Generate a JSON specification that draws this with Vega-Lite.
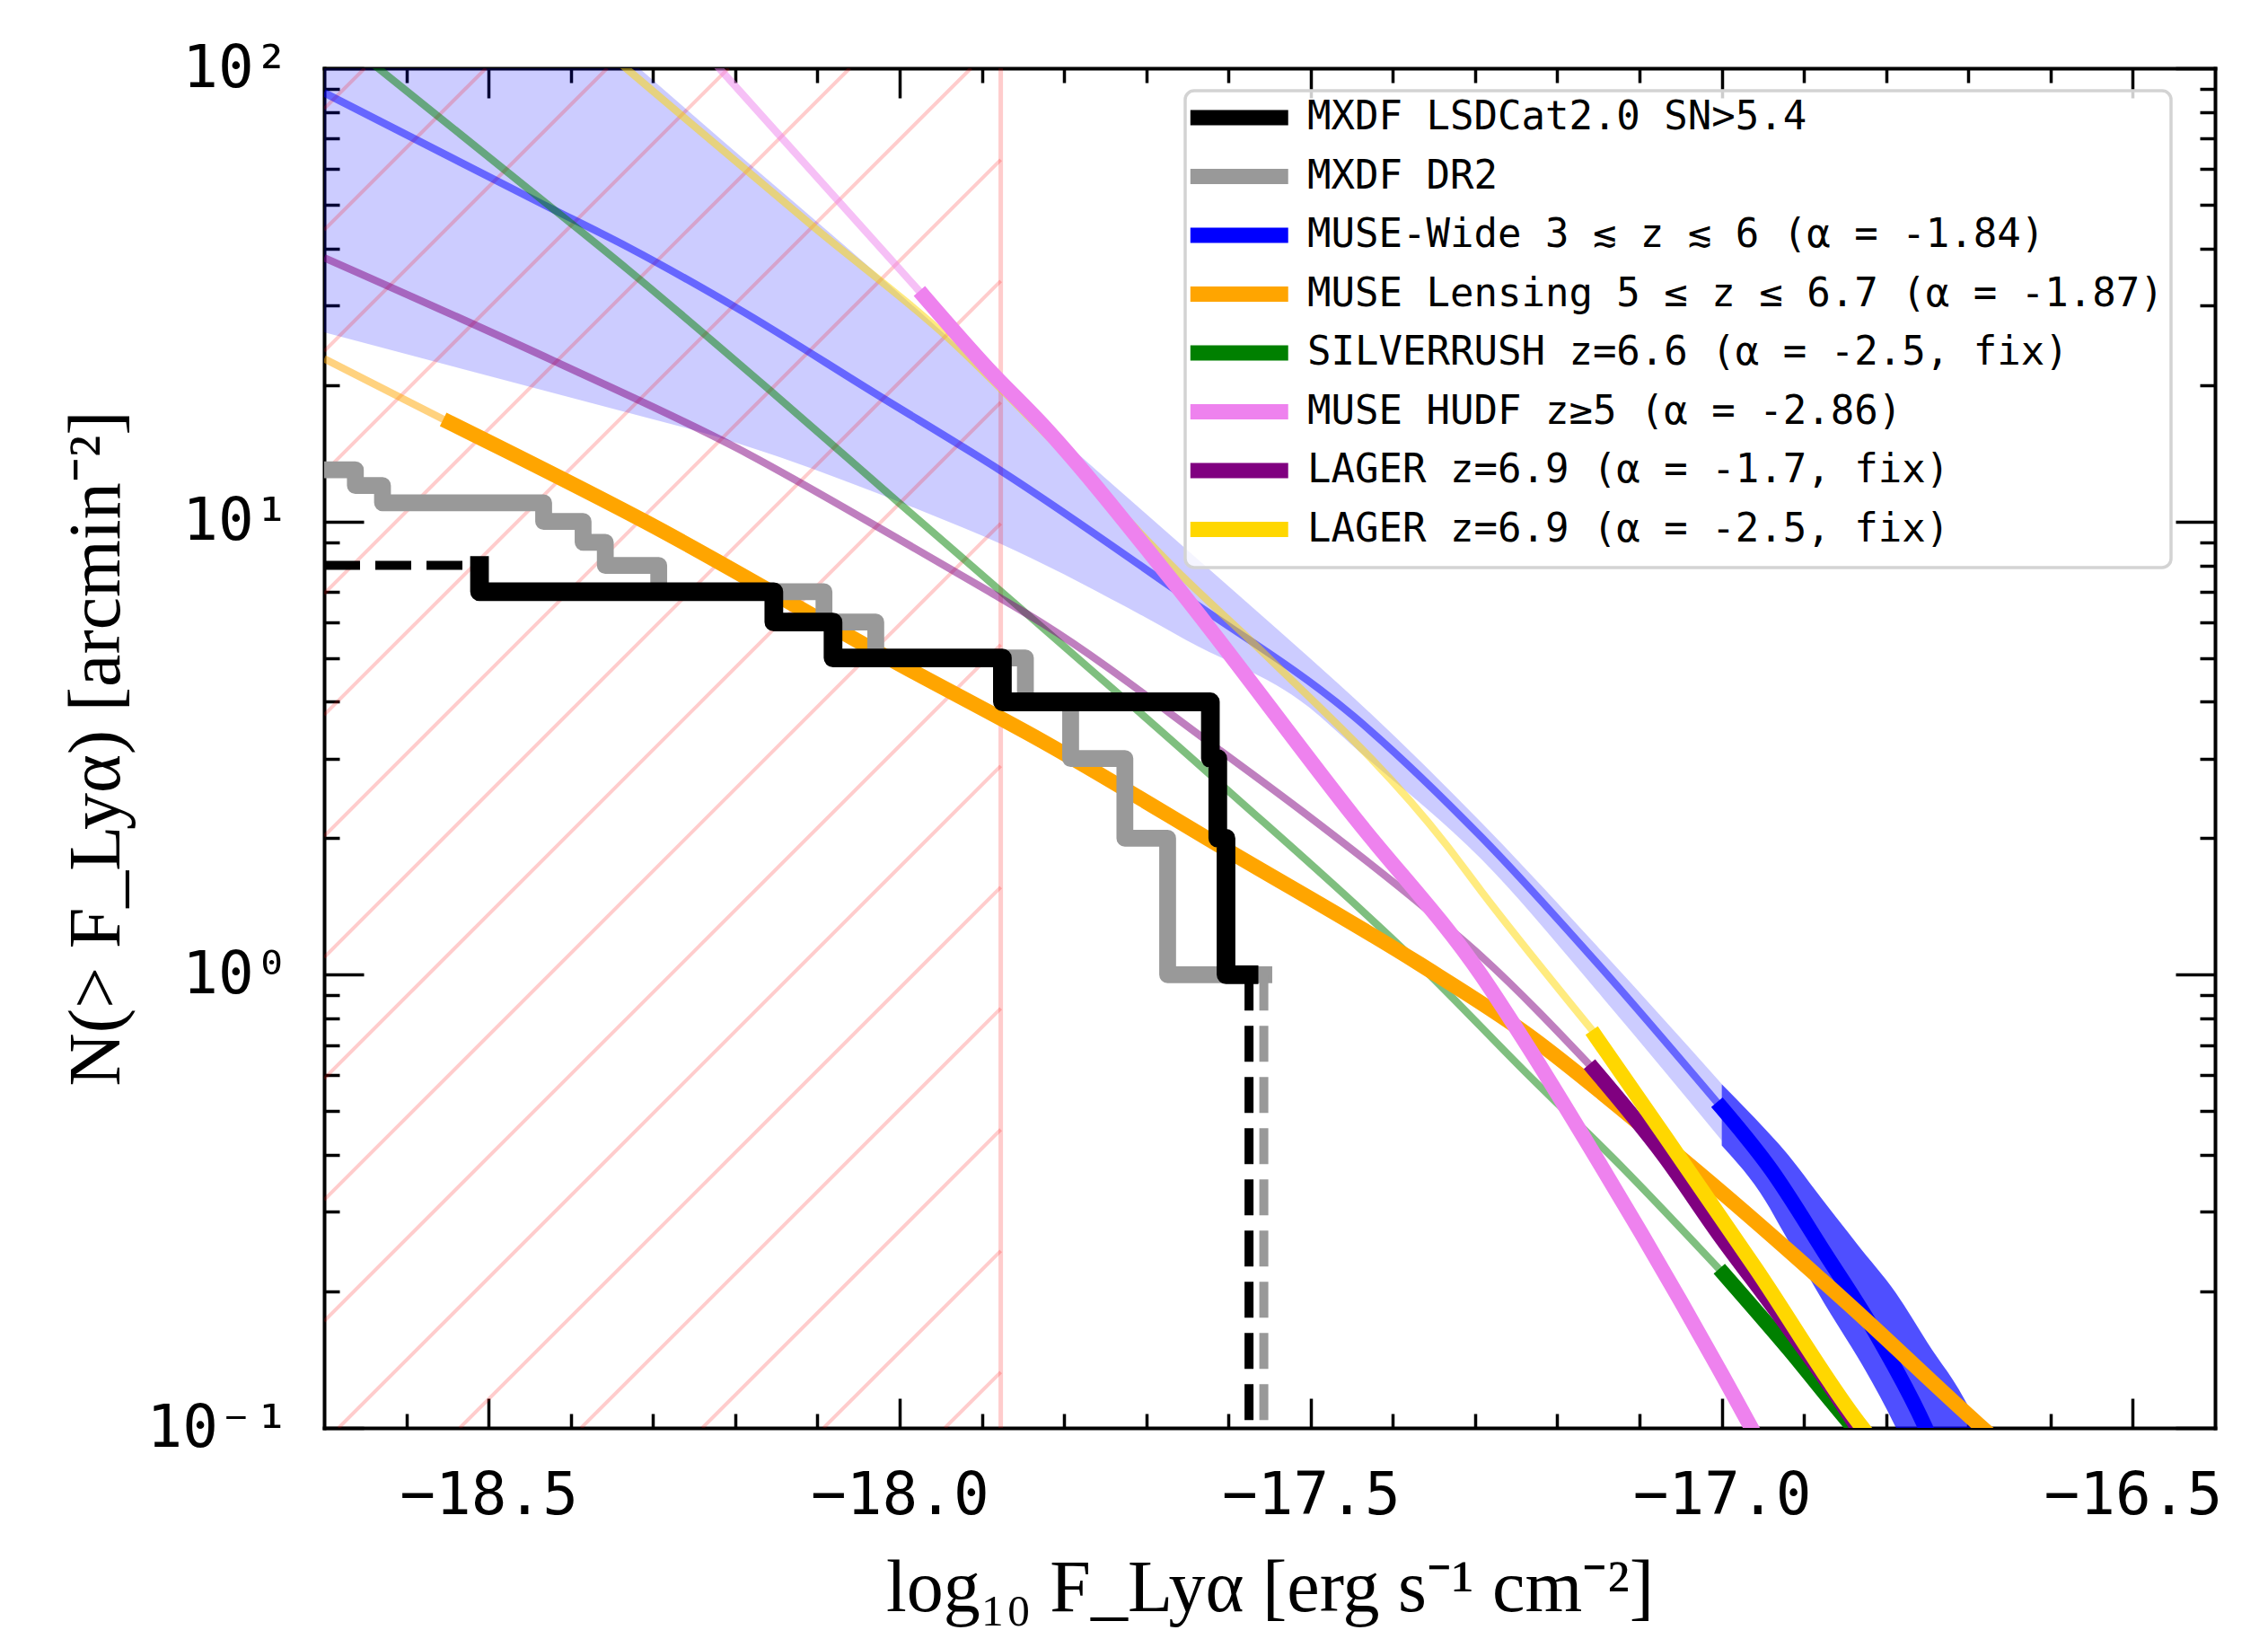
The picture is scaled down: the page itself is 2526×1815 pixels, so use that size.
{
  "$schema": "https://vega.github.io/schema/vega-lite/v6.json",
  "width": 2106,
  "height": 1514,
  "autosize": {"type": "none"},
  "padding": {"left": 361, "top": 76, "right": 59, "bottom": 225},
  "background": "white",
  "config": {
    "view": {"stroke": null},
    "axis": {
      "grid": false,
      "domainColor": "black",
      "domainWidth": 4,
      "domainCap": "square",
      "tickColor": "black",
      "tickWidth": 3.5,
      "labelFont": "DejaVu Sans Mono",
      "labelFontSize": 66,
      "labelColor": "black",
      "labelFlush": false,
      "labelLimit": 600,
      "titleFont": "Liberation Serif",
      "titleFontSize": 82,
      "titleFontWeight": "normal",
      "titleColor": "black"
    },
    "legend": {"strokeWidth": 3.5}
  },
  "datasets": {
    "band_light": [
      {"x": -18.7, "lo": 26.16, "hi": 398.1},
      {"x": -18.312, "lo": 17.03, "hi": 98.29},
      {"x": -18.254, "lo": 15.98, "hi": 79.62},
      {"x": -17.97, "lo": 10.5, "hi": 28.44},
      {"x": -17.876, "lo": 8.913, "hi": 19.95},
      {"x": -17.725, "lo": 6.486, "hi": 11.38},
      {"x": -17.652, "lo": 5.483, "hi": 8.71},
      {"x": -17.502, "lo": 3.89, "hi": 5.012},
      {"x": -17.447, "lo": 3.177, "hi": 4.074},
      {"x": -17.292, "lo": 1.795, "hi": 2.163},
      {"x": -17.145, "lo": 0.891, "hi": 1.122},
      {"x": -17.0, "lo": 0.4305, "hi": 0.5741}
    ],
    "band_dark": [
      {"x": -17.0, "lo": 0.4198, "hi": 0.5735},
      {"x": -16.947, "lo": 0.3173, "hi": 0.456},
      {"x": -16.925, "lo": 0.2704, "hi": 0.4121},
      {"x": -16.875, "lo": 0.1879, "hi": 0.3148},
      {"x": -16.847, "lo": 0.1556, "hi": 0.271},
      {"x": -16.836, "lo": 0.1445, "hi": 0.2553},
      {"x": -16.788, "lo": 0.1, "hi": 0.1982},
      {"x": -16.75, "lo": 0.07, "hi": 0.1545},
      {"x": -16.702, "lo": 0.05, "hi": 0.1132},
      {"x": -16.68, "lo": 0.045, "hi": 0.0933}
    ],
    "hatch": [
      {"x": -18.7, "y": 81.41, "x2": -18.6507, "y2": 100},
      {"x": -18.7, "y": 43.97, "x2": -18.5032, "y2": 100},
      {"x": -18.7, "y": 23.75, "x2": -18.3557, "y2": 100},
      {"x": -18.7, "y": 12.83, "x2": -18.2082, "y2": 100},
      {"x": -18.7, "y": 6.929, "x2": -18.0607, "y2": 100},
      {"x": -18.7, "y": 3.744, "x2": -17.9132, "y2": 100},
      {"x": -18.7, "y": 2.022, "x2": -17.877, "y2": 62.84},
      {"x": -18.7, "y": 1.092, "x2": -17.877, "y2": 33.94},
      {"x": -18.7, "y": 0.5898, "x2": -17.877, "y2": 18.33},
      {"x": -18.7, "y": 0.3186, "x2": -17.877, "y2": 9.902},
      {"x": -18.7, "y": 0.1721, "x2": -17.877, "y2": 5.348},
      {"x": -18.6825, "y": 0.1, "x2": -17.877, "y2": 2.888},
      {"x": -18.535, "y": 0.1, "x2": -17.877, "y2": 1.56},
      {"x": -18.3875, "y": 0.1, "x2": -17.877, "y2": 0.8428},
      {"x": -18.24, "y": 0.1, "x2": -17.877, "y2": 0.4553},
      {"x": -18.0925, "y": 0.1, "x2": -17.877, "y2": 0.2459},
      {"x": -17.945, "y": 0.1, "x2": -17.877, "y2": 0.1328}
    ],
    "limit": [{"x": -17.877}],
    "thin": [
      {"s": "MUSE-Wide 3 ≲ z ≲ 6 (α = -1.84)", "x": -18.7, "y": 88.31},
      {"s": "MUSE-Wide 3 ≲ z ≲ 6 (α = -1.84)", "x": -18.432, "y": 49.89},
      {"s": "MUSE-Wide 3 ≲ z ≲ 6 (α = -1.84)", "x": -18.33, "y": 40.27},
      {"s": "MUSE-Wide 3 ≲ z ≲ 6 (α = -1.84)", "x": -18.198, "y": 29.58},
      {"s": "MUSE-Wide 3 ≲ z ≲ 6 (α = -1.84)", "x": -18.031, "y": 19.23},
      {"s": "MUSE-Wide 3 ≲ z ≲ 6 (α = -1.84)", "x": -17.876, "y": 12.91},
      {"s": "MUSE-Wide 3 ≲ z ≲ 6 (α = -1.84)", "x": -17.652, "y": 6.808},
      {"s": "MUSE-Wide 3 ≲ z ≲ 6 (α = -1.84)", "x": -17.447, "y": 3.707},
      {"s": "MUSE-Wide 3 ≲ z ≲ 6 (α = -1.84)", "x": -17.292, "y": 2.009},
      {"s": "MUSE-Wide 3 ≲ z ≲ 6 (α = -1.84)", "x": -17.145, "y": 1.028},
      {"s": "MUSE-Wide 3 ≲ z ≲ 6 (α = -1.84)", "x": -17.0, "y": 0.5082},
      {"s": "MUSE Lensing 5 ≤ z ≤ 6.7 (α = -1.87)", "x": -18.7, "y": 22.86},
      {"s": "MUSE Lensing 5 ≤ z ≤ 6.7 (α = -1.87)", "x": -18.547, "y": 16.52},
      {"s": "SILVERRUSH z=6.6 (α = -2.5, fix)", "x": -18.7, "y": 124.7},
      {"s": "SILVERRUSH z=6.6 (α = -2.5, fix)", "x": -18.628, "y": 97.95},
      {"s": "SILVERRUSH z=6.6 (α = -2.5, fix)", "x": -18.427, "y": 49.89},
      {"s": "SILVERRUSH z=6.6 (α = -2.5, fix)", "x": -18.33, "y": 35.89},
      {"s": "SILVERRUSH z=6.6 (α = -2.5, fix)", "x": -18.154, "y": 19.21},
      {"s": "SILVERRUSH z=6.6 (α = -2.5, fix)", "x": -18.0, "y": 10.96},
      {"s": "SILVERRUSH z=6.6 (α = -2.5, fix)", "x": -17.854, "y": 6.457},
      {"s": "SILVERRUSH z=6.6 (α = -2.5, fix)", "x": -17.614, "y": 2.679},
      {"s": "SILVERRUSH z=6.6 (α = -2.5, fix)", "x": -17.363, "y": 1.032},
      {"s": "SILVERRUSH z=6.6 (α = -2.5, fix)", "x": -17.237, "y": 0.6053},
      {"s": "SILVERRUSH z=6.6 (α = -2.5, fix)", "x": -17.121, "y": 0.3758},
      {"s": "SILVERRUSH z=6.6 (α = -2.5, fix)", "x": -16.997, "y": 0.2181},
      {"s": "MUSE HUDF z≥5 (α = -2.86)", "x": -18.25, "y": 115.3},
      {"s": "MUSE HUDF z≥5 (α = -2.86)", "x": -18.215, "y": 97.95},
      {"s": "MUSE HUDF z≥5 (α = -2.86)", "x": -17.97, "y": 31.33},
      {"s": "LAGER z=6.9 (α = -1.7, fix)", "x": -18.7, "y": 38.19},
      {"s": "LAGER z=6.9 (α = -1.7, fix)", "x": -18.421, "y": 22.62},
      {"s": "LAGER z=6.9 (α = -1.7, fix)", "x": -18.198, "y": 14.52},
      {"s": "LAGER z=6.9 (α = -1.7, fix)", "x": -18.0, "y": 9.12},
      {"s": "LAGER z=6.9 (α = -1.7, fix)", "x": -17.893, "y": 7.04},
      {"s": "LAGER z=6.9 (α = -1.7, fix)", "x": -17.826, "y": 5.957},
      {"s": "LAGER z=6.9 (α = -1.7, fix)", "x": -17.614, "y": 3.162},
      {"s": "LAGER z=6.9 (α = -1.7, fix)", "x": -17.51, "y": 2.291},
      {"s": "LAGER z=6.9 (α = -1.7, fix)", "x": -17.363, "y": 1.413},
      {"s": "LAGER z=6.9 (α = -1.7, fix)", "x": -17.292, "y": 1.096},
      {"s": "LAGER z=6.9 (α = -1.7, fix)", "x": -17.155, "y": 0.6166},
      {"s": "LAGER z=6.9 (α = -2.5, fix)", "x": -18.4, "y": 126.8},
      {"s": "LAGER z=6.9 (α = -2.5, fix)", "x": -18.327, "y": 97.95},
      {"s": "LAGER z=6.9 (α = -2.5, fix)", "x": -18.103, "y": 44.41},
      {"s": "LAGER z=6.9 (α = -2.5, fix)", "x": -17.941, "y": 25.41},
      {"s": "LAGER z=6.9 (α = -2.5, fix)", "x": -17.826, "y": 15.85},
      {"s": "LAGER z=6.9 (α = -2.5, fix)", "x": -17.652, "y": 7.447},
      {"s": "LAGER z=6.9 (α = -2.5, fix)", "x": -17.558, "y": 5.14},
      {"s": "LAGER z=6.9 (α = -2.5, fix)", "x": -17.335, "y": 1.934},
      {"s": "LAGER z=6.9 (α = -2.5, fix)", "x": -17.292, "y": 1.524},
      {"s": "LAGER z=6.9 (α = -2.5, fix)", "x": -17.151, "y": 0.7295}
    ],
    "thick": [
      {"s": "MUSE-Wide 3 ≲ z ≲ 6 (α = -1.84)", "x": -17.0, "y": 0.5082},
      {"s": "MUSE-Wide 3 ≲ z ≲ 6 (α = -1.84)", "x": -16.94, "y": 0.3715},
      {"s": "MUSE-Wide 3 ≲ z ≲ 6 (α = -1.84)", "x": -16.876, "y": 0.2455},
      {"s": "MUSE-Wide 3 ≲ z ≲ 6 (α = -1.84)", "x": -16.81, "y": 0.1585},
      {"s": "MUSE-Wide 3 ≲ z ≲ 6 (α = -1.84)", "x": -16.752, "y": 0.1},
      {"s": "MUSE-Wide 3 ≲ z ≲ 6 (α = -1.84)", "x": -16.74, "y": 0.0891},
      {"s": "MUSE Lensing 5 ≤ z ≤ 6.7 (α = -1.87)", "x": -18.547, "y": 16.52},
      {"s": "MUSE Lensing 5 ≤ z ≤ 6.7 (α = -1.87)", "x": -18.31, "y": 10.0},
      {"s": "MUSE Lensing 5 ≤ z ≤ 6.7 (α = -1.87)", "x": -18.0, "y": 4.842},
      {"s": "MUSE Lensing 5 ≤ z ≤ 6.7 (α = -1.87)", "x": -17.826, "y": 3.273},
      {"s": "MUSE Lensing 5 ≤ z ≤ 6.7 (α = -1.87)", "x": -17.6, "y": 1.875},
      {"s": "MUSE Lensing 5 ≤ z ≤ 6.7 (α = -1.87)", "x": -17.368, "y": 1.057},
      {"s": "MUSE Lensing 5 ≤ z ≤ 6.7 (α = -1.87)", "x": -17.237, "y": 0.7396},
      {"s": "MUSE Lensing 5 ≤ z ≤ 6.7 (α = -1.87)", "x": -17.098, "y": 0.4656},
      {"s": "MUSE Lensing 5 ≤ z ≤ 6.7 (α = -1.87)", "x": -16.997, "y": 0.3273},
      {"s": "MUSE Lensing 5 ≤ z ≤ 6.7 (α = -1.87)", "x": -16.847, "y": 0.1884},
      {"s": "MUSE Lensing 5 ≤ z ≤ 6.7 (α = -1.87)", "x": -16.688, "y": 0.1019},
      {"s": "MUSE Lensing 5 ≤ z ≤ 6.7 (α = -1.87)", "x": -16.68, "y": 0.0989},
      {"s": "SILVERRUSH z=6.6 (α = -2.5, fix)", "x": -16.997, "y": 0.2181},
      {"s": "SILVERRUSH z=6.6 (α = -2.5, fix)", "x": -16.919, "y": 0.1496},
      {"s": "SILVERRUSH z=6.6 (α = -2.5, fix)", "x": -16.841, "y": 0.1007},
      {"s": "SILVERRUSH z=6.6 (α = -2.5, fix)", "x": -16.83, "y": 0.0955},
      {"s": "MUSE HUDF z≥5 (α = -2.86)", "x": -17.97, "y": 31.33},
      {"s": "MUSE HUDF z≥5 (α = -2.86)", "x": -17.893, "y": 21.78},
      {"s": "MUSE HUDF z≥5 (α = -2.86)", "x": -17.826, "y": 16.33},
      {"s": "MUSE HUDF z≥5 (α = -2.86)", "x": -17.67, "y": 7.464},
      {"s": "MUSE HUDF z≥5 (α = -2.86)", "x": -17.447, "y": 2.226},
      {"s": "MUSE HUDF z≥5 (α = -2.86)", "x": -17.292, "y": 0.9945},
      {"s": "MUSE HUDF z≥5 (α = -2.86)", "x": -17.237, "y": 0.7},
      {"s": "MUSE HUDF z≥5 (α = -2.86)", "x": -17.145, "y": 0.3741},
      {"s": "MUSE HUDF z≥5 (α = -2.86)", "x": -17.098, "y": 0.2692},
      {"s": "MUSE HUDF z≥5 (α = -2.86)", "x": -16.964, "y": 0.1},
      {"s": "MUSE HUDF z≥5 (α = -2.86)", "x": -16.955, "y": 0.0933},
      {"s": "LAGER z=6.9 (α = -1.7, fix)", "x": -17.155, "y": 0.6166},
      {"s": "LAGER z=6.9 (α = -1.7, fix)", "x": -17.07, "y": 0.3981},
      {"s": "LAGER z=6.9 (α = -1.7, fix)", "x": -17.003, "y": 0.2667},
      {"s": "LAGER z=6.9 (α = -1.7, fix)", "x": -16.925, "y": 0.1722},
      {"s": "LAGER z=6.9 (α = -1.7, fix)", "x": -16.835, "y": 0.1},
      {"s": "LAGER z=6.9 (α = -1.7, fix)", "x": -16.825, "y": 0.0933},
      {"s": "LAGER z=6.9 (α = -2.5, fix)", "x": -17.153, "y": 0.7295},
      {"s": "LAGER z=6.9 (α = -2.5, fix)", "x": -17.07, "y": 0.4426},
      {"s": "LAGER z=6.9 (α = -2.5, fix)", "x": -16.958, "y": 0.2239},
      {"s": "LAGER z=6.9 (α = -2.5, fix)", "x": -16.83, "y": 0.1007},
      {"s": "LAGER z=6.9 (α = -2.5, fix)", "x": -16.82, "y": 0.0955}
    ],
    "gray_step": [
      {"s": "MXDF DR2", "i": 0, "x": -18.75, "y": 13},
      {"s": "MXDF DR2", "i": 1, "x": -18.662, "y": 12},
      {"s": "MXDF DR2", "i": 2, "x": -18.629, "y": 11},
      {"s": "MXDF DR2", "i": 3, "x": -18.433, "y": 10},
      {"s": "MXDF DR2", "i": 4, "x": -18.385, "y": 9},
      {"s": "MXDF DR2", "i": 5, "x": -18.358, "y": 8},
      {"s": "MXDF DR2", "i": 6, "x": -18.293, "y": 7},
      {"s": "MXDF DR2", "i": 7, "x": -18.092, "y": 6},
      {"s": "MXDF DR2", "i": 8, "x": -18.029, "y": 5},
      {"s": "MXDF DR2", "i": 9, "x": -17.847, "y": 4},
      {"s": "MXDF DR2", "i": 10, "x": -17.792, "y": 3},
      {"s": "MXDF DR2", "i": 11, "x": -17.726, "y": 2},
      {"s": "MXDF DR2", "i": 12, "x": -17.674, "y": 1},
      {"s": "MXDF DR2", "i": 13, "x": -17.557, "y": 1}
    ],
    "black_step": [
      {"s": "MXDF LSDCat2.0 SN>5.4", "i": 0, "x": -18.511, "y": 8},
      {"s": "MXDF LSDCat2.0 SN>5.4", "i": 1, "x": -18.511, "y": 7},
      {"s": "MXDF LSDCat2.0 SN>5.4", "i": 2, "x": -18.153, "y": 6},
      {"s": "MXDF LSDCat2.0 SN>5.4", "i": 3, "x": -18.081, "y": 5},
      {"s": "MXDF LSDCat2.0 SN>5.4", "i": 4, "x": -17.875, "y": 4},
      {"s": "MXDF LSDCat2.0 SN>5.4", "i": 5, "x": -17.622, "y": 3},
      {"s": "MXDF LSDCat2.0 SN>5.4", "i": 6, "x": -17.613, "y": 2},
      {"s": "MXDF LSDCat2.0 SN>5.4", "i": 7, "x": -17.603, "y": 1},
      {"s": "MXDF LSDCat2.0 SN>5.4", "i": 8, "x": -17.575, "y": 1}
    ],
    "dashes": [
      {"s": "MXDF DR2", "seg": "c", "i": 0, "x": -17.557, "y": 1},
      {"s": "MXDF DR2", "seg": "c", "i": 1, "x": -17.557, "y": 0.09},
      {"s": "MXDF LSDCat2.0 SN>5.4", "seg": "a", "i": 0, "x": -18.7, "y": 8},
      {"s": "MXDF LSDCat2.0 SN>5.4", "seg": "a", "i": 1, "x": -18.511, "y": 8},
      {"s": "MXDF LSDCat2.0 SN>5.4", "seg": "b", "i": 0, "x": -17.575, "y": 1},
      {"s": "MXDF LSDCat2.0 SN>5.4", "seg": "b", "i": 1, "x": -17.575, "y": 0.09}
    ]
  },
  "resolve": {"axis": {"x": "independent", "y": "independent"}},
  "layer": [
    {
      "layer": [
        {
          "data": {"name": "band_light"},
          "mark": {"type": "area", "color": "#0000ff", "opacity": 0.2, "clip": true, "interpolate": "monotone"},
          "encoding": {
            "x": {"field": "x", "type": "quantitative", "axis": null,
                  "scale": {"domain": [-18.7, -16.4], "nice": false, "zero": false}},
            "y": {"field": "lo", "type": "quantitative", "axis": null,
                  "scale": {"type": "log", "domain": [0.1, 100], "nice": false}},
            "y2": {"field": "hi"}
          }
        },
        {
          "data": {"name": "band_dark"},
          "mark": {"type": "area", "color": "#0000ff", "opacity": 0.69, "clip": true, "interpolate": "monotone"},
          "encoding": {
            "x": {"field": "x", "type": "quantitative", "axis": null},
            "y": {"field": "lo", "type": "quantitative", "axis": null},
            "y2": {"field": "hi"}
          }
        },
        {
          "data": {"name": "hatch"},
          "mark": {"type": "rule", "color": "#ff0000", "opacity": 0.2, "strokeWidth": 4, "clip": true},
          "encoding": {
            "x": {"field": "x", "type": "quantitative", "axis": null},
            "y": {"field": "y", "type": "quantitative", "axis": null},
            "x2": {"field": "x2"},
            "y2": {"field": "y2"}
          }
        },
        {
          "data": {"name": "limit"},
          "mark": {"type": "rule", "color": "#ff0000", "opacity": 0.2, "strokeWidth": 5, "clip": true},
          "encoding": {
            "x": {"field": "x", "type": "quantitative", "axis": null}
          }
        },
        {
          "data": {"name": "thin"},
          "mark": {"type": "line", "strokeWidth": 8.3, "opacity": 0.5, "clip": true, "interpolate": "monotone", "strokeCap": "butt"},
          "encoding": {
            "x": {"field": "x", "type": "quantitative", "axis": null},
            "y": {"field": "y", "type": "quantitative", "axis": null},
            "color": {
              "field": "s", "type": "nominal",
              "scale": {
                "domain": ["MXDF LSDCat2.0 SN>5.4", "MXDF DR2", "MUSE-Wide 3 ≲ z ≲ 6 (α = -1.84)", "MUSE Lensing 5 ≤ z ≤ 6.7 (α = -1.87)", "SILVERRUSH z=6.6 (α = -2.5, fix)", "MUSE HUDF z≥5 (α = -2.86)", "LAGER z=6.9 (α = -1.7, fix)", "LAGER z=6.9 (α = -2.5, fix)"],
                "range": ["#000000", "#999999", "#0000ff", "#ffa500", "#008000", "#ee82ee", "#800080", "#ffd700"]
              },
              "legend": {
                "title": null,
                "orient": "none",
                "legendX": 959,
                "legendY": 25,
                "symbolType": "M-2,0H7",
                "symbolSize": 586,
                "symbolStrokeWidth": 17,
                "symbolOpacity": 1,
                "labelFont": "DejaVu Sans Mono",
                "labelFontSize": 44,
                "labelColor": "black",
                "labelOffset": 84,
                "labelLimit": 3000,
                "rowPadding": -2.5,
                "padding": 8,
                "fillColor": "rgba(255,255,255,0.8)",
                "strokeColor": "#d3d3d3",
                "cornerRadius": 10
              }
            }
          }
        },
        {
          "data": {"name": "thick"},
          "mark": {"type": "line", "strokeWidth": 16.7, "clip": true, "interpolate": "monotone", "strokeCap": "square"},
          "encoding": {
            "x": {"field": "x", "type": "quantitative", "axis": null},
            "y": {"field": "y", "type": "quantitative", "axis": null},
            "color": {"field": "s", "type": "nominal"}
          }
        },
        {
          "data": {"name": "gray_step"},
          "mark": {"type": "line", "strokeWidth": 18.75, "clip": true, "interpolate": "step-after", "strokeJoin": "round", "strokeCap": "square"},
          "encoding": {
            "x": {"field": "x", "type": "quantitative", "axis": null},
            "y": {"field": "y", "type": "quantitative", "axis": null},
            "order": {"field": "i", "type": "quantitative"},
            "color": {"field": "s", "type": "nominal"}
          }
        },
        {
          "data": {"name": "dashes"},
          "mark": {"type": "line", "strokeWidth": 10, "clip": true, "strokeDash": [40, 17], "strokeCap": "butt"},
          "encoding": {
            "x": {"field": "x", "type": "quantitative", "axis": null},
            "y": {"field": "y", "type": "quantitative", "axis": null},
            "order": {"field": "i", "type": "quantitative"},
            "detail": {"field": "seg", "type": "nominal"},
            "color": {"field": "s", "type": "nominal"}
          }
        },
        {
          "data": {"name": "black_step"},
          "mark": {"type": "line", "strokeWidth": 20.8, "clip": true, "interpolate": "step-after", "strokeJoin": "round", "strokeCap": "square"},
          "encoding": {
            "x": {"field": "x", "type": "quantitative", "axis": null},
            "y": {"field": "y", "type": "quantitative", "axis": null},
            "order": {"field": "i", "type": "quantitative"},
            "color": {"field": "s", "type": "nominal"}
          }
        }
      ]
    },
    {
      "data": {"name": "black_step"},
      "mark": {"type": "point", "opacity": 0},
      "encoding": {
        "x": {"field": "x", "type": "quantitative",
              "scale": {"domain": [-18.7, -16.4], "nice": false, "zero": false},
              "axis": {"orient": "bottom", "values": [-18.5, -18.0, -17.5, -17.0, -16.5], "format": ".1f", "tickSize": 0, "domain": true, "labels": true, "labelPadding": 43, "labelLimit": 600, "title": "log₁₀ F_Lyα [erg s⁻¹ cm⁻²]", "titlePadding": 30}},
        "y": {"field": "y", "type": "quantitative",
              "scale": {"type": "log", "domain": [0.1, 100], "nice": false},
              "axis": {"orient": "left", "values": [0.1, 1, 10, 100], "labelExpr": "datum.value >= 99 ? '10²' : datum.value >= 9 ? '10¹' : datum.value >= 0.9 ? '10⁰' : '10⁻¹'", "tickSize": 0, "domain": true, "labels": true, "labelPadding": 39, "labelLimit": 600, "title": "N(> F_Lyα) [arcmin⁻²]", "titlePadding": 14}}
      }
    },
    {
      "data": {"name": "black_step"},
      "mark": {"type": "point", "opacity": 0},
      "encoding": {
        "x": {"field": "x", "type": "quantitative", "axis": {"orient": "top", "values": [-18.5, -18.0, -17.5, -17.0, -16.5], "tickSize": -33, "labels": false, "domain": true, "title": null}},
        "y": {"field": "y", "type": "quantitative", "axis": {"orient": "right", "values": [0.1, 1, 10, 100], "tickSize": -44, "labels": false, "domain": true, "title": null}}
      }
    },
    {
      "data": {"name": "black_step"},
      "mark": {"type": "point", "opacity": 0},
      "encoding": {
        "x": {"field": "x", "type": "quantitative", "axis": {"orient": "top", "values": [-18.6, -18.4, -18.3, -18.2, -18.1, -17.9, -17.8, -17.7, -17.6, -17.4, -17.3, -17.2, -17.1, -16.9, -16.8, -16.7, -16.6], "tickSize": -16, "labels": false, "domain": false, "title": null}},
        "y": {"field": "y", "type": "quantitative", "axis": {"orient": "right", "values": [0.2, 0.3, 0.4, 0.5, 0.6, 0.7, 0.8, 0.9, 2, 3, 4, 5, 6, 7, 8, 9, 20, 30, 40, 50, 60, 70, 80, 90], "tickSize": -17, "labels": false, "domain": false, "title": null}}
      }
    },
    {
      "data": {"name": "black_step"},
      "mark": {"type": "point", "opacity": 0},
      "encoding": {
        "x": {"field": "x", "type": "quantitative", "axis": {"orient": "bottom", "values": [-18.5, -18.0, -17.5, -17.0, -16.5], "tickSize": -33, "labels": false, "domain": false, "title": null}},
        "y": {"field": "y", "type": "quantitative", "axis": {"orient": "left", "values": [0.1, 1, 10, 100], "tickSize": -44, "labels": false, "domain": false, "title": null}}
      }
    },
    {
      "data": {"name": "black_step"},
      "mark": {"type": "point", "opacity": 0},
      "encoding": {
        "x": {"field": "x", "type": "quantitative", "axis": {"orient": "bottom", "values": [-18.6, -18.4, -18.3, -18.2, -18.1, -17.9, -17.8, -17.7, -17.6, -17.4, -17.3, -17.2, -17.1, -16.9, -16.8, -16.7, -16.6], "tickSize": -16, "labels": false, "domain": false, "title": null}},
        "y": {"field": "y", "type": "quantitative", "axis": {"orient": "left", "values": [0.2, 0.3, 0.4, 0.5, 0.6, 0.7, 0.8, 0.9, 2, 3, 4, 5, 6, 7, 8, 9, 20, 30, 40, 50, 60, 70, 80, 90], "tickSize": -17, "labels": false, "domain": false, "title": null}}
      }
    }
  ]
}
